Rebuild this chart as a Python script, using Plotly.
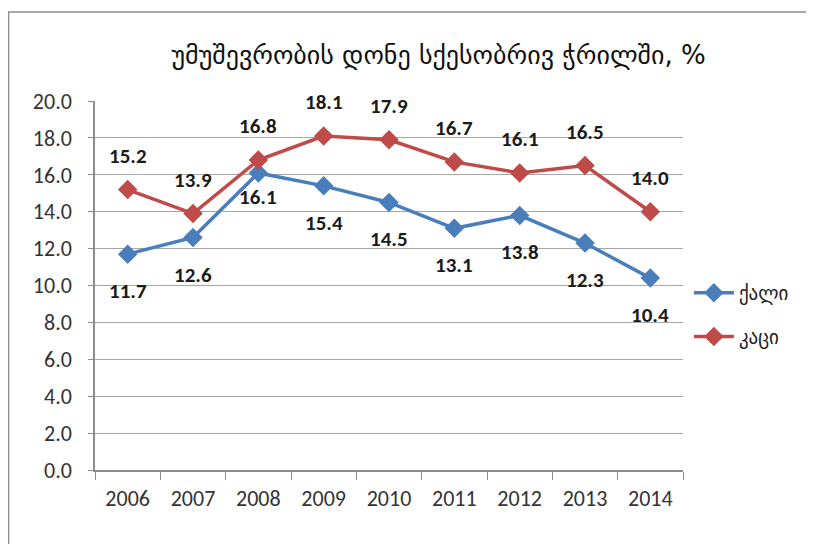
import plotly.graph_objects as go

# données
years = ["2006", "2007", "2008", "2009", "2010", "2011", "2012", "2013", "2014"]
women = [11.7, 12.6, 16.1, 15.4, 14.5, 13.1, 13.8, 12.3, 10.4]
men = [15.2, 13.9, 16.8, 18.1, 17.9, 16.7, 16.1, 16.5, 14.0]
y_ticks = [0, 2, 4, 6, 8, 10, 12, 14, 16, 18, 20]

title_text = "უმუშევრობის დონე სქესობრივ ჭრილში, %"
women_name = "ქალი"
men_name = "კაცი"

BLUE = "#4A7EBB"
RED = "#BE4B48"
NUM_FONT = "Liberation Sans Narrow, Carlito, Lato, sans-serif"
GEO_FONT = "DejaVu Sans, sans-serif"

fig = go.Figure()

fig.add_trace(go.Scatter(
    x=years, y=women, name=women_name, mode="lines+markers",
    line=dict(color=BLUE, width=3.5),
    marker=dict(symbol="diamond", size=15, color=BLUE),
    legendgroup="w",
))
fig.add_trace(go.Scatter(
    x=years, y=men, name=men_name, mode="lines+markers",
    line=dict(color=RED, width=3.5),
    marker=dict(symbol="diamond", size=15, color=RED),
    legendgroup="m",
))

# étiquettes de données (x = index de catégorie)
for i, v in enumerate(men):
    fig.add_annotation(x=i, y=v, text=f"<b>{v:.1f}</b>", showarrow=False,
                       yshift=34, font=dict(family=NUM_FONT, size=21, color="#1a1a1a"))
for i, v in enumerate(women):
    shift = -24 if years[i] == "2008" else -37
    fig.add_annotation(x=i, y=v, text=f"<b>{v:.1f}</b>", showarrow=False,
                       yshift=shift, font=dict(family=NUM_FONT, size=21, color="#1a1a1a"))

# cadre
fig.add_shape(type="rect", xref="paper", yref="paper",
              x0=-0.147, x1=1.3, y0=-0.3, y1=1.241,
              line=dict(color="#8c8c8c", width=1.5))

fig.update_layout(
    width=814, height=544,
    margin=dict(l=87, r=139, t=93, b=82),
    paper_bgcolor="white", plot_bgcolor="white",
    title=dict(text=title_text, x=0.529, xanchor="center", xref="container",
               y=0.914, yanchor="middle",
               font=dict(family=GEO_FONT, size=26, color="#111")),
    legend=dict(x=1.01, xanchor="left", y=0.42, yanchor="middle",
                traceorder="grouped", tracegroupgap=16,
                font=dict(family=GEO_FONT, size=19, color="#222"),
                itemwidth=40),
    showlegend=True,
)

fig.update_xaxes(
    type="category", range=[-0.5, len(years) - 0.5],
    tickson="boundaries", ticks="outside", ticklen=8, tickangle=0,
    ticklabelstandoff=8,
    tickcolor="#8c8c8c", showline=True, linecolor="#8c8c8c", linewidth=1.5,
    showgrid=False, tickfont=dict(family=NUM_FONT, size=22, color="#333"),
)
fig.update_yaxes(
    range=[0, 20], tickvals=y_ticks, tickformat=".1f",
    ticks="outside", ticklen=5, tickcolor="#8c8c8c", ticklabelstandoff=12,
    showline=True, linecolor="#8c8c8c", linewidth=1.5,
    showgrid=True, gridcolor="#a6a6a6", gridwidth=1, zeroline=False,
    tickfont=dict(family=NUM_FONT, size=22, color="#333"),
)

fig.write_html("out.html")
